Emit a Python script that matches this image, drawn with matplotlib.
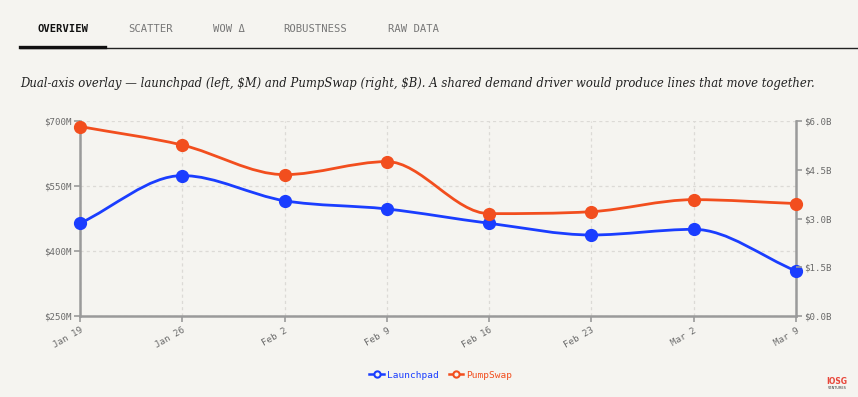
import numpy as np
import matplotlib
matplotlib.use("Agg")
import matplotlib.pyplot as plt
from matplotlib.path import Path
from matplotlib.patches import PathPatch
from matplotlib.lines import Line2D

weeks = ["Jan 19", "Jan 26", "Feb 2", "Feb 9", "Feb 16", "Feb 23", "Mar 2", "Mar 9"]
launchpad_m = [464, 574, 516, 497, 464, 437, 450, 354]
pumpswap_b = [5.83, 5.26, 4.35, 4.75, 3.15, 3.21, 3.58, 3.46]
left_ticks = [250, 400, 550, 700]
right_ticks = [0.0, 1.5, 3.0, 4.5, 6.0]
tabs = ["OVERVIEW", "SCATTER", "WOW Δ", "ROBUSTNESS", "RAW DATA"]

BG = "#f5f4f0"
BLUE = "#1a3dff"
ORANGE = "#f24e1e"
GRID = "#dcdad6"
SPINE = "#9a9a9a"
TICKC = "#6b6b6b"
MONO = "DejaVu Sans Mono"

fig = plt.figure(figsize=(8.58, 3.97), dpi=100, facecolor=BG)

# Tabs
tab_x = [38, 128, 213, 283, 388]
for i, (t, x) in enumerate(zip(tabs, tab_x)):
    fig.text(x / 858, 1 - 29 / 397, t, family=MONO, fontsize=7.6,
             color="#111111" if i == 0 else "#777777",
             fontweight="bold" if i == 0 else "normal", va="center", ha="left")
fig.add_artist(Line2D([20 / 858, 1.0], [1 - 48 / 397] * 2, color="#222222", lw=1.0,
                      transform=fig.transFigure))
fig.add_artist(Line2D([20 / 858, 105 / 858], [1 - 47 / 397] * 2, color="#111111", lw=2.4,
                      transform=fig.transFigure))

fig.text(20 / 858, 1 - 84 / 397,
         "Dual-axis overlay \u2014 launchpad (left, \\$M) and PumpSwap (right, \\$B). "
         "A shared demand driver would produce lines that move together.",
         family="DejaVu Serif", style="italic", fontsize=8.35, color="#222222",
         va="center", ha="left")

ax = fig.add_axes([80 / 858, 1 - 316 / 397, (796 - 80) / 858, (316 - 121) / 397])
ax2 = ax.twinx()
ax.set_zorder(1)
ax2.set_zorder(2)
ax.set_facecolor(BG)
ax2.patch.set_visible(False)
ax.set_axisbelow(True)

x = np.arange(len(weeks))


def monotone_path(xs, ys):
    xs = np.asarray(xs, float)
    ys = np.asarray(ys, float)
    n = len(xs)
    d = np.diff(ys) / np.diff(xs)
    m = np.zeros(n)
    m[0] = d[0]
    m[-1] = d[-1]
    for k in range(1, n - 1):
        if d[k - 1] * d[k] <= 0:
            m[k] = 0
        else:
            m[k] = (d[k - 1] + d[k]) / 2
    for k in range(n - 1):
        if d[k] == 0:
            m[k] = m[k + 1] = 0
            continue
        a = m[k] / d[k]
        b = m[k + 1] / d[k]
        s = a * a + b * b
        if s > 9:
            t = 3 / np.sqrt(s)
            m[k] = t * a * d[k]
            m[k + 1] = t * b * d[k]
    verts = [(xs[0], ys[0])]
    codes = [Path.MOVETO]
    for k in range(n - 1):
        h = (xs[k + 1] - xs[k]) / 3
        verts += [(xs[k] + h, ys[k] + m[k] * h),
                  (xs[k + 1] - h, ys[k + 1] - m[k + 1] * h),
                  (xs[k + 1], ys[k + 1])]
        codes += [Path.CURVE4] * 3
    return Path(verts, codes)


ax.add_patch(PathPatch(monotone_path(x, launchpad_m), facecolor="none",
                       edgecolor=BLUE, lw=2.0, zorder=3, capstyle="round"))
ax.plot(x, launchpad_m, "o", color=BLUE, ms=8.5, zorder=4, clip_on=False)
ax2.add_patch(PathPatch(monotone_path(x, pumpswap_b), facecolor="none",
                        edgecolor=ORANGE, lw=2.0, zorder=3, capstyle="round"))
ax2.plot(x, pumpswap_b, "o", color=ORANGE, ms=8.5, zorder=4, clip_on=False)

ax.set_xlim(0, len(weeks) - 1)
ax.set_ylim(250, 700)
ax2.set_ylim(0, 6)
ax.set_yticks(left_ticks)
ax.set_yticklabels([f"${v}M" for v in left_ticks])
ax2.set_yticks(right_ticks)
ax2.set_yticklabels([f"${v:.1f}B" for v in right_ticks])
ax.set_xticks(x)
ax.set_xticklabels(weeks, rotation=30, ha="right", rotation_mode="anchor")

ax.grid(True, color=GRID, ls=(0, (2.5, 2.5)), lw=0.9)
for a in (ax, ax2):
    for s in a.spines.values():
        s.set_visible(False)
for name in ("left", "bottom", "right"):
    s = ax.spines[name]
    s.set_visible(True)
    s.set_color(SPINE)
    s.set_linewidth(1.8)

ax.tick_params(axis="both", colors=SPINE, labelcolor=TICKC, length=4, width=1.2,
               labelsize=6.6)
ax.tick_params(axis="y", pad=2)
ax.tick_params(axis="x", pad=3)
ax2.tick_params(axis="y", colors=SPINE, labelcolor=TICKC, length=4, width=1.2,
                labelsize=6.6, pad=2)
for lab in ax.get_xticklabels() + ax.get_yticklabels() + ax2.get_yticklabels():
    lab.set_family(MONO)

handles = [Line2D([], [], color=BLUE, lw=1.8, marker="o", ms=4.5, mfc=BG, mew=1.5),
           Line2D([], [], color=ORANGE, lw=1.8, marker="o", ms=4.5, mfc=BG, mew=1.5)]
leg = fig.legend(handles, ["Launchpad", "PumpSwap"], loc="center",
                 bbox_to_anchor=(441 / 858, 1 - 375 / 397), ncol=2, frameon=False,
                 prop={"family": MONO, "size": 6.8}, handlelength=1.5,
                 handletextpad=0.4, columnspacing=1.0)
for t, c in zip(leg.get_texts(), [BLUE, ORANGE]):
    t.set_color(c)

fig.text(837 / 858, 1 - 381 / 397, "IOSG", family="DejaVu Sans", fontweight="bold",
         fontsize=5.5, color="#e8463a", ha="center", va="center")
fig.text(837 / 858, 1 - 388 / 397, "VENTURES", family="DejaVu Sans",
         fontsize=2.5, color="#333333", ha="center", va="center")

fig.savefig("out.png", dpi=100, facecolor=BG)
